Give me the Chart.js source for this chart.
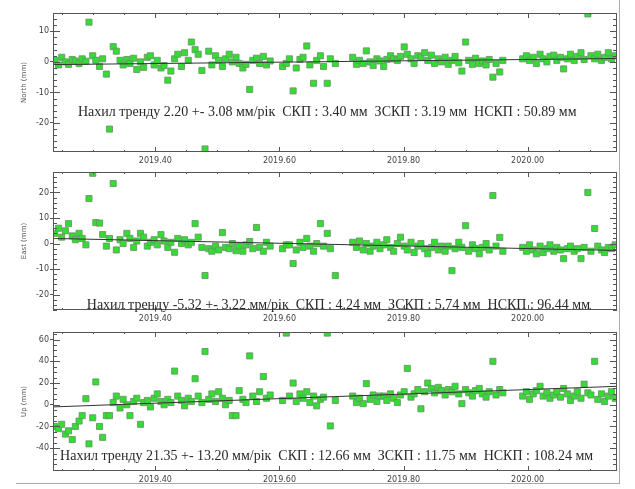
<!DOCTYPE html>
<html>
<head>
<meta charset="utf-8">
<script src="https://cdn.jsdelivr.net/npm/chart.js@4"></script>
<style>
  body { margin: 0; background: #fff; }
  #wrap { position: relative; width: 635px; height: 489px; overflow: hidden; }
  .panel { position: absolute; left: 0; }
  #frame { position: absolute; left: 16px; top: -2px; width: 603px; height: 485px;
           border-right: 1px solid #aaa; border-bottom: 1px solid #aaa; pointer-events: none; }
</style>
</head>
<body>
<div id="wrap">
  <canvas id="north" class="panel" width="635" height="165" style="top:0px"></canvas>
  <canvas id="east" class="panel" width="635" height="158" style="top:165px"></canvas>
  <canvas id="up" class="panel" width="635" height="166" style="top:323px"></canvas>
  <div id="frame"></div>
</div>
<script>
// epochs (decimal years)
const epochs = [
  2019.238, 2019.244, 2019.249, 2019.255, 2019.260, 2019.266, 2019.271, 2019.277, 2019.282, 2019.288,
  2019.293, 2019.299, 2019.304, 2019.310, 2019.315, 2019.321, 2019.326, 2019.332, 2019.337, 2019.343,
  2019.348, 2019.354, 2019.359, 2019.365, 2019.370, 2019.376, 2019.381, 2019.387, 2019.392, 2019.398,
  2019.403, 2019.409, 2019.414, 2019.420, 2019.425, 2019.431, 2019.436, 2019.442, 2019.447, 2019.453,
  2019.458, 2019.464, 2019.469, 2019.475, 2019.480, 2019.486, 2019.491, 2019.497, 2019.502, 2019.508,
  2019.513, 2019.519, 2019.524, 2019.530, 2019.535, 2019.541, 2019.546, 2019.552, 2019.557, 2019.563,
  2019.568, 2019.574, 2019.579, 2019.585, 2019.605, 2019.611, 2019.616, 2019.622, 2019.627, 2019.633,
  2019.638, 2019.644, 2019.649, 2019.655, 2019.660, 2019.666, 2019.671, 2019.677, 2019.682, 2019.690,
  2019.718, 2019.724, 2019.729, 2019.735, 2019.740, 2019.746, 2019.751, 2019.757, 2019.762, 2019.768,
  2019.773, 2019.779, 2019.784, 2019.790, 2019.795, 2019.801, 2019.806, 2019.812, 2019.817, 2019.823,
  2019.828, 2019.834, 2019.839, 2019.845, 2019.850, 2019.856, 2019.861, 2019.867, 2019.872, 2019.878,
  2019.883, 2019.889, 2019.894, 2019.900, 2019.905, 2019.911, 2019.916, 2019.922, 2019.927, 2019.933,
  2019.938, 2019.944, 2019.949, 2019.955, 2019.960, 2019.992, 2019.998, 2020.003, 2020.009, 2020.014,
  2020.020, 2020.025, 2020.031, 2020.036, 2020.042, 2020.047, 2020.053, 2020.058, 2020.064, 2020.069,
  2020.075, 2020.080, 2020.086, 2020.091, 2020.097, 2020.102, 2020.108, 2020.113, 2020.119, 2020.124,
  2020.130, 2020.135, 2020.141
];

// North (mm)
const northVals = [
  0.5, -1.0, 1.5, 0.0, -0.8, 0.8, 0.3, -0.5, 1.0, 0.2,
  13.0, 2.0, 0.5, -1.5, 1.0, -4.0, -22.0, 5.0, 3.5, 0.5,
  -1.0, 0.8, -0.5, 1.2, -2.5, 0.0, -1.8, 1.5, 2.0, -1.0,
  0.5, -2.0, -1.2, -6.0, -3.0, 1.0, 2.5, -1.5, 3.0, 0.5,
  6.5, 4.0, 2.5, -2.8, -28.5, 3.5, -1.0, 2.0, 0.5, -1.5,
  1.0, 2.5, 0.0, 1.5, -0.5, -2.0, -0.8, -9.0, 0.5, 1.2,
  -0.5, 1.8, -1.0, 0.3, -1.5, -0.5, 1.0, -9.5, -2.0, 0.8,
  1.5, 5.2, -1.0, -7.0, 0.5, 2.0, -1.5, -7.0, 1.0, -0.5,
  1.5, -0.8, 0.5, -0.5, 3.6, 0.0, -1.2, 1.0, 0.3, -1.5,
  0.8, 2.0, 1.0, 0.5, 1.8, 4.9, 2.5, 1.0, -0.5, 2.0,
  1.5, 3.0, 0.5, 2.2, -0.5, 1.0, 0.0, 1.5, -0.8, 0.5,
  1.8, -0.3, -3.0, 6.5, 0.5, -0.8, 1.2, -0.5, 0.3, -1.0,
  0.8, -5.0, -0.5, -3.3, 0.5, 1.0, 2.0, 0.5, 1.5, -0.5,
  2.5, 1.0, 0.0, 1.8, 2.2, 0.5, 1.5, -2.3, 1.0, 2.5,
  0.5, 1.8, 3.0, 0.8, 15.7, 2.0, 1.0, 2.5, 0.5, 1.5,
  3.0, 1.0, 2.0
];

// East (mm)
const eastVals = [
  4.0, 6.0, 2.5, 5.0, 7.8, 3.0, 1.5, 4.0, 2.0, -0.5,
  17.6, 27.5, 8.2, 8.0, 3.5, -1.0, 2.0, 23.5, -2.5, 1.5,
  0.0, 4.0, 2.0, -1.5, 1.0, 4.0, 2.5, -1.0, 0.5, 1.5,
  -0.5, 3.5, 1.0, -1.5, 0.5, -3.4, 2.0, 0.0, 1.5, -0.5,
  0.5, 7.8, 2.5, -1.5, -12.5, -2.0, -3.0, -1.0, -2.5, 4.3,
  -1.5, -2.0, 0.0, -2.8, -1.0, -3.0, -0.5, 0.8, -2.0, 6.3,
  -1.5, -3.0, 0.5, -1.0, -2.0, -0.5, -0.5, -7.8, -2.5, 0.5,
  -1.5, 2.0, -1.0, -3.0, 0.0, 7.8, -1.0, 4.0, -2.0, -12.5,
  0.5, -1.5, 1.0, -2.5, 0.0, -3.0, -1.0, 0.5, -2.0, -0.5,
  1.5, -1.5, -3.0, 0.0, 2.5, -1.0, -2.5, 0.5, -3.5, -1.0,
  0.0, -2.0, -4.0, -1.5, 0.5, -2.5, -1.0, -3.0, -1.0, -10.6,
  -2.0, 0.5, -1.5, 7.0, -3.0, -0.5, -2.0, -4.0, -1.5, 0.0,
  -2.5, 18.8, -1.0, 2.4, -3.0, -1.5, -3.0, -0.5, -2.5, -4.0,
  -1.0, -3.5, -2.0, -0.5, -3.0, -1.5, -2.5, -5.9, -2.0, -1.0,
  -3.0, -2.0, -5.9, -1.5, 20.0, -3.0, 5.9, -1.0, -2.5, -3.5,
  -1.5, -2.0, -0.5
];

// Up (mm)
const upVals = [
  -20, -22, -18, -27, -24, -32, -20, -15, -10, 5.6,
  -36, -12, 21, -20, -30, -10, -10, 2, 8, -3,
  5, 0, -10, 3, 6, -18, 2, 4, -2, 6,
  10, 3, 0, 5, 2, 31, 8, 4, -1, 6,
  3, 24, 8, 2, 49, 5, 10, 3, 12, 6,
  0, 4, -10, -10, 13, 5, 2, 45, 8, 3,
  12, 26, 6, 9, 4, 66, 8, 20, 3, 10,
  6, 12, 2, 8, -1, 5, 7, 66, -19.5, 4,
  8, 2, 6, 1, 19.5, 5, 9, 3, 8, 8,
  4, 10, 6, 2, 9, 12, 33.5, 7, 10, 14,
  -3.7, 12, 20, 15, 11, 16, 13, 9, 14, 12,
  17, 10, 1, 14, 11, 8, 13, 15, 10, 7,
  12, 40, 9, 14, 11, 8, 12, 5, 10, 13,
  17, 8, 11, 6, 9, 12, 7, 15, 10, 4,
  8, 12, 6, 19, 11, 9, 40, 5, 10, 3,
  8, 12, 6
];

// trend line end values [start, end]
const trendX = [2019.235, 2020.144];
const northTrend = [-0.9, 1.1];
const eastTrend = [2.0, -2.7];
const upTrend = [-2.0, 17.0];

const xTicks = [2019.4, 2019.6, 2019.8, 2020.0];
const northTicks = [-20, -10, 0, 10];
const eastTicks = [-20, -10, 0, 10, 20];
const upTicks = [-40, -20, 0, 20, 40, 60];

const northText = "Нахил тренду 2.20 +- 3.08 мм/рік  СКП : 3.40 мм  ЗСКП : 3.19 мм  НСКП : 50.89 мм";
const eastText = "Нахил тренду -5.32 +- 3.22 мм/рік  СКП : 4.24 мм  ЗСКП : 5.74 мм  НСКП : 96.44 мм";
const upText = "Нахил тренду 21.35 +- 13.20 мм/рік  СКП : 12.66 мм  ЗСКП : 11.75 мм  НСКП : 108.24 мм";

// frame + inward ticks, IDL style
const frameTicks = {
  id: "frameTicks",
  afterDatasetsDraw(chart, args, o) {
    const { ctx, chartArea: a } = chart;
    const xs = chart.scales.x, ys = chart.scales.y;
    ctx.save();
    ctx.strokeStyle = "#555";
    ctx.lineWidth = 1;
    ctx.strokeRect(a.left + 0.5, a.top + 0.5, a.width - 1, a.height - 1);
    ctx.beginPath();
    let n0 = Math.ceil(ys.min / o.yMinor), n1 = Math.floor(ys.max / o.yMinor);
    for (let n = n0; n <= n1; n++) {
      const v = n * o.yMinor;
      const big = Math.abs(v / o.yMajor - Math.round(v / o.yMajor)) < 1e-6;
      const len = big ? 7 : 4;
      const py = Math.round(ys.getPixelForValue(v)) + 0.5;
      ctx.moveTo(a.left, py); ctx.lineTo(a.left + len, py);
      ctx.moveTo(a.right, py); ctx.lineTo(a.right - len, py);
    }
    n0 = Math.ceil(xs.min / o.xMinor); n1 = Math.floor(xs.max / o.xMinor);
    for (let n = n0; n <= n1; n++) {
      const v = n * o.xMinor;
      const big = Math.abs(v / o.xMajor - Math.round(v / o.xMajor)) < 1e-4;
      const len = big ? 5 : 2;
      const px = Math.round(xs.getPixelForValue(v)) + 0.5;
      ctx.moveTo(px, a.top); ctx.lineTo(px, a.top + len);
      ctx.moveTo(px, a.bottom); ctx.lineTo(px, a.bottom - len);
    }
    ctx.stroke();
    ctx.restore();
  }
};

// stats text inside the plot
const statsText = {
  id: "statsText",
  afterDatasetsDraw(chart, args, o) {
    const ctx = chart.ctx;
    ctx.save();
    ctx.font = '14px "Liberation Serif"';
    ctx.fillStyle = "#2a2a2a";
    ctx.textAlign = "center";
    ctx.textBaseline = "middle";
    ctx.fillText(o.text, chart.scales.x.getPixelForValue(o.x), chart.scales.y.getPixelForValue(o.y));
    ctx.restore();
  }
};

function makePanel(id, vals, trend, yTicks, yMin, yMax, yMinor, yTitle, text, textPos, padTop, xHeight) {
  new Chart(id, {
    type: "scatter",
    data: {
      datasets: [
        {
          type: "line",
          data: trendX.map((x, i) => ({ x: x, y: trend[i] })),
          borderColor: "#333",
          borderWidth: 1,
          pointRadius: 0,
          fill: false,
          order: 0,
        },
        {
          data: epochs.map((x, i) => ({ x: x, y: vals[i] })),
          pointStyle: "rect",
          pointRadius: 4.3,
          backgroundColor: "#34dc34",
          borderColor: "rgba(100,150,100,0.85)",
          borderWidth: 1,
          order: 1,
        },
      ],
    },
    options: {
      responsive: false,
      animation: false,
      layout: { padding: { left: 16, right: 18, top: padTop, bottom: 0 } },
      plugins: {
        legend: { display: false },
        tooltip: { enabled: false },
        frameTicks: { yMajor: yTicks[1] - yTicks[0], yMinor: yMinor, xMajor: 0.2, xMinor: 0.05 },
        statsText: { text: text, x: textPos[0], y: textPos[1] },
      },
      scales: {
        x: {
          type: "linear",
          min: trendX[0],
          max: trendX[1],
          afterBuildTicks: (s) => { s.ticks = xTicks.map((v) => ({ value: v })); },
          afterFit: (s) => { s.height = xHeight; },
          grid: { display: false, drawTicks: false, tickLength: 0 },
          border: { display: false },
          ticks: {
            padding: 4,
            maxRotation: 0,
            minRotation: 0,
            color: "#444",
            font: { size: 8, family: "DejaVu Sans" },
            callback: (v) => v.toFixed(2),
          },
        },
        y: {
          min: yMin,
          max: yMax,
          afterBuildTicks: (s) => { s.ticks = yTicks.map((v) => ({ value: v })); },
          afterFit: (s) => { s.width = 37; },
          grid: { drawOnChartArea: false, tickLength: 3, color: "#555" },
          border: { display: false },
          title: { display: true, text: yTitle, color: "#555", font: { size: 7, family: "DejaVu Sans" }, padding: { top: 4, bottom: 2 } },
          ticks: { padding: 1, color: "#444", font: { size: 8, family: "DejaVu Sans" } },
        },
      },
    },
    plugins: [frameTicks, statsText],
  });
}

makePanel("north", northVals, northTrend, northTicks, -29.5, 16, 2, "North (mm)", northText, [2019.677, -16.4], 13, 13);
makePanel("east", eastVals, eastTrend, eastTicks, -26, 28, 2, "East (mm)", eastText, [2019.695, -24.3], 7, 13);
makePanel("up", upVals, upTrend, upTicks, -61, 67, 5, "Up (mm)", upText, [2019.676, -47.4], 9, 18);
</script>
</body>
</html>
